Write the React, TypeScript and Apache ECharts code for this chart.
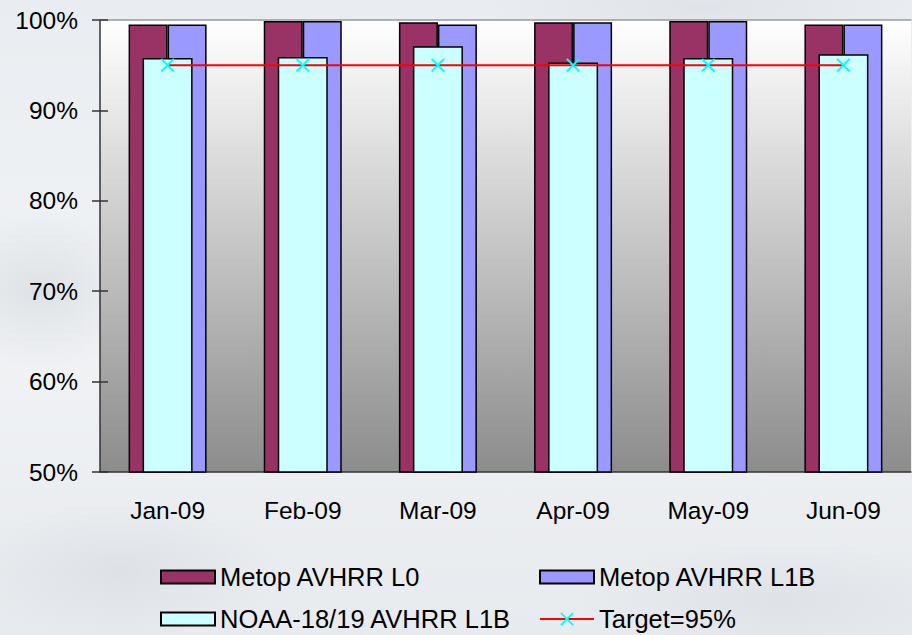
import React, { useEffect, useRef } from "react";
import * as echarts from "echarts";

// Monthly availability, Jan–Jun 2009
const months = ["Jan-09", "Feb-09", "Mar-09", "Apr-09", "May-09", "Jun-09"];
const metopL0 = [99.5, 99.9, 99.75, 99.75, 99.9, 99.5];
const metopL1B = [99.5, 99.9, 99.5, 99.75, 99.9, 99.5];
const noaaL1B = [95.8, 95.9, 97.1, 95.3, 95.8, 96.2];
const target = [95, 95, 95, 95, 95, 95];
const yTicks = { min: 50, max: 100, interval: 10 };

const FONT = "'Liberation Sans', Arial, sans-serif";
// thin diagonal cross used for the target markers
const CROSS =
  "path://M0,1L1,0L5,4L9,0L10,1L6,5L10,9L9,10L5,6L1,10L0,9L4,5Z";

export default function App() {
  const ref = useRef<HTMLDivElement>(null);

  useEffect(() => {
    if (!ref.current) return;
    const chart = echarts.init(ref.current, null, { renderer: "svg" });
    const legendText = { fontFamily: FONT, fontSize: 25.5, color: "#000" };
    const legendBase = {
      orient: "horizontal",
      itemWidth: 54,
      itemHeight: 13,
      padding: 0,
      textStyle: legendText,
      selectedMode: false,
    };
    chart.setOption({
      animation: false,
      backgroundColor: "transparent",
      textStyle: { fontFamily: FONT },
      grid: {
        left: 100,
        top: 20,
        right: 1,
        bottom: 163,
        show: true,
        borderWidth: 0,
        backgroundColor: {
          type: "linear",
          x: 0,
          y: 0,
          x2: 0,
          y2: 1,
          colorStops: [
            { offset: 0, color: "#ffffff" },
            { offset: 1, color: "#8c8c8c" },
          ],
        },
      },
      xAxis: [
        {
          type: "category",
          data: months,
          position: "bottom",
          axisLine: { lineStyle: { color: "#333", width: 1.5 } },
          axisTick: { inside: true, length: 8, lineStyle: { color: "#333", width: 1.5 } },
          axisLabel: { fontFamily: FONT, fontSize: 24.5, color: "#000", margin: 26 },
        },
        {
          type: "category",
          data: months,
          position: "top",
          axisLine: { lineStyle: { color: "#999", width: 1.5 } },
          axisTick: { show: false },
          axisLabel: { show: false },
        },
      ],
      yAxis: [
        {
          type: "value",
          min: yTicks.min,
          max: yTicks.max,
          interval: yTicks.interval,
          axisLine: { show: true, lineStyle: { color: "#333", width: 1.5 } },
          axisTick: { show: true, length: 8, lineStyle: { color: "#333", width: 1.5 } },
          splitLine: { show: false },
          axisLabel: {
            fontFamily: FONT,
            fontSize: 24.5,
            color: "#000",
            margin: 22,
            formatter: "{value}%",
          },
        },
        {
          type: "value",
          position: "left",
          min: yTicks.min,
          max: yTicks.max,
          interval: yTicks.interval,
          axisLine: { show: false },
          axisTick: { show: true, inside: true, length: 8, lineStyle: { color: "#333", width: 1.5 } },
          splitLine: { show: false },
          axisLabel: { show: false },
        },
      ],
      legend: [
        { ...legendBase, left: 160, top: 564, icon: "rect", data: ["Metop AVHRR L0"] },
        { ...legendBase, left: 539, top: 564, icon: "rect", data: ["Metop AVHRR L1B"] },
        { ...legendBase, left: 160, top: 606, icon: "rect", data: ["NOAA-18/19 AVHRR L1B"] },
        { ...legendBase, left: 539, top: 606, itemHeight: 17, data: ["Target=95%"] },
      ],
      series: [
        {
          name: "Metop AVHRR L0",
          type: "bar",
          xAxisIndex: 0,
          data: metopL0,
          barWidth: 39,
          barGap: "0%",
          itemStyle: { color: "#993366", borderColor: "#000", borderWidth: 1.5 },
          z: 2,
        },
        {
          name: "Metop AVHRR L1B",
          type: "bar",
          xAxisIndex: 0,
          data: metopL1B,
          barWidth: 39,
          barGap: "0%",
          itemStyle: { color: "#9999ff", borderColor: "#000", borderWidth: 1.5 },
          z: 2,
        },
        {
          name: "NOAA-18/19 AVHRR L1B",
          type: "bar",
          xAxisIndex: 1,
          data: noaaL1B,
          barWidth: 50,
          itemStyle: { color: "#ccffff", borderColor: "#000", borderWidth: 1.5 },
          z: 3,
        },
        {
          name: "Target=95%",
          type: "line",
          xAxisIndex: 0,
          data: target,
          symbol: CROSS,
          symbolSize: 14,
          showSymbol: true,
          lineStyle: { color: "#ff0000", width: 2 },
          itemStyle: { color: "#00ffff" },
          z: 5,
        },
      ],
    });
    return () => chart.dispose();
  }, []);

  return (
    <div
      style={{
        position: "fixed",
        left: 0,
        top: 0,
        width: 912,
        height: 635,
        background:
          "radial-gradient(ellipse 110px 80px at 40px 290px, rgba(200,205,211,0.45), rgba(200,205,211,0) 100%)," +
          "radial-gradient(ellipse 160px 70px at 120px 570px, rgba(205,209,215,0.4), rgba(205,209,215,0) 100%)," +
          "radial-gradient(ellipse 200px 60px at 780px 600px, rgba(205,209,215,0.35), rgba(205,209,215,0) 100%)," +
          "radial-gradient(ellipse 220px 40px at 700px 8px, rgba(218,222,228,0.6), rgba(218,222,228,0) 100%)," +
          "linear-gradient(180deg, #e9edf1 0%, #f1f3f5 50%, #e7eaee 100%)",
      }}
    >
      <div ref={ref} style={{ width: 912, height: 635 }} />
    </div>
  );
}
